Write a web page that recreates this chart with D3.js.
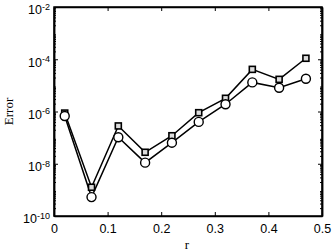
<!DOCTYPE html>
<html>
<head>
<meta charset="utf-8">
<script src="https://cdn.jsdelivr.net/npm/d3@7"></script>
<style>
  body { margin: 0; background: #fff; }
  svg { display: block; }
  .tick text { font-family: "Liberation Sans", Arial, sans-serif; font-size: 12.5px; fill: #000; }
</style>
</head>
<body>
<div id="graph"></div>
<script>
// data
var rValues = [0.02, 0.07, 0.12, 0.17, 0.22, 0.27, 0.32, 0.37, 0.42, 0.47];
var errSquare = [8.7e-7, 1.26e-9, 2.8e-7, 2.75e-8, 1.18e-7, 9e-7, 3.2e-6, 4.1e-5, 1.7e-5, 1.09e-4];
var errCircle = [6.7e-7, 5.3e-10, 1.03e-7, 1.1e-8, 6.4e-8, 4e-7, 1.9e-6, 1.3e-5, 8.1e-6, 1.8e-5];
var xTicks = [0, 0.1, 0.2, 0.3, 0.4, 0.5];
var yExponents = [-10, -8, -6, -4, -2];

const WIDTH = 332, HEIGHT = 251;
var margin = { top: 7, right: 10, bottom: 35, left: 54 },
  width = WIDTH - margin.left - margin.right,
  height = HEIGHT - margin.top - margin.bottom;

var x = d3.scaleLinear().domain([0, 0.5]).range([0, width]);
var y = d3.scaleLog().domain([1e-10, 1e-2]).range([height, 0]);

var svg = d3.select("#graph").append("svg")
  .attr("width", WIDTH).attr("height", HEIGHT)
  .append("g")
  .attr("transform", "translate(" + margin.left + "," + margin.top + ")");

// minor log ticks
var minor = [];
for (var e = -10; e < -2; e++) {
  for (var m = 2; m <= 9; m++) minor.push(m * Math.pow(10, e));
}
var yMajor = yExponents.map(function (k) { return Math.pow(10, k); });

function superLabel(sel) {
  sel.each(function (d) {
    var t = d3.select(this).text(null);
    var k = Math.round(Math.log10(d));
    t.append("tspan").text("10");
    t.append("tspan").attr("dy", "-0.5em").attr("font-size", "9px").text(k);
  });
}

// left axis
var gl = svg.append("g").call(d3.axisLeft(y).tickValues(yMajor).tickSizeInner(-4).tickSizeOuter(0).tickPadding(4));
gl.selectAll(".tick text").attr("dy", "0.55em").call(superLabel);
svg.append("g").call(d3.axisLeft(y).tickValues(minor).tickSizeInner(-2).tickSizeOuter(0).tickFormat(""));
// right axis
svg.append("g").attr("transform", "translate(" + width + ",0)")
  .call(d3.axisRight(y).tickValues(yMajor).tickSizeInner(-4).tickSizeOuter(0).tickFormat(""));
svg.append("g").attr("transform", "translate(" + width + ",0)")
  .call(d3.axisRight(y).tickValues(minor).tickSizeInner(-2).tickSizeOuter(0).tickFormat(""));
// bottom / top
svg.append("g").attr("transform", "translate(0," + height + ")")
  .call(d3.axisBottom(x).tickValues(xTicks).tickSizeInner(-4).tickSizeOuter(0).tickPadding(8).tickFormat(d3.format("")));
svg.append("g")
  .call(d3.axisTop(x).tickValues(xTicks).tickSizeInner(-4).tickSizeOuter(0).tickFormat(""));

svg.selectAll(".domain").attr("stroke", "#000").attr("stroke-width", 1.5);
svg.selectAll(".tick line").attr("stroke", "#000");

// box
svg.append("rect").attr("width", width).attr("height", height)
  .attr("fill", "none").attr("stroke", "#000").attr("stroke-width", 1.5);

// axis titles
svg.append("text").attr("x", width / 2 - 1).attr("y", height + 33)
  .attr("text-anchor", "middle").attr("font-family", "Liberation Serif, Times New Roman, serif")
  .attr("font-size", "13px").text("r");
svg.append("text").attr("transform", "translate(" + (-41) + "," + (height / 2) + ") rotate(-90)")
  .attr("text-anchor", "middle").attr("font-family", "Liberation Serif, Times New Roman, serif")
  .attr("font-size", "13px").text("Error");

var line = d3.line()
  .x(function (d) { return x(d[0]); })
  .y(function (d) { return y(d[1]); });

function series(vals) { return rValues.map(function (r, i) { return [r, vals[i]]; }); }

var sq = series(errSquare), ci = series(errCircle);

svg.append("path").attr("d", line(sq)).attr("fill", "none").attr("stroke", "#000").attr("stroke-width", 1.5);
svg.append("path").attr("d", line(ci)).attr("fill", "none").attr("stroke", "#000").attr("stroke-width", 1.5);

svg.selectAll(".sq").data(sq).enter().append("rect")
  .attr("x", function (d) { return x(d[0]) - 3; })
  .attr("y", function (d) { return y(d[1]) - 3; })
  .attr("width", 6).attr("height", 6)
  .attr("fill", "#ddd").attr("stroke", "#000").attr("stroke-width", 1.6);

svg.selectAll(".ci").data(ci).enter().append("circle")
  .attr("cx", function (d) { return x(d[0]); })
  .attr("cy", function (d) { return y(d[1]); })
  .attr("r", 4.5)
  .attr("fill", "#fff").attr("stroke", "#000").attr("stroke-width", 1.4);
</script>
</body>
</html>
